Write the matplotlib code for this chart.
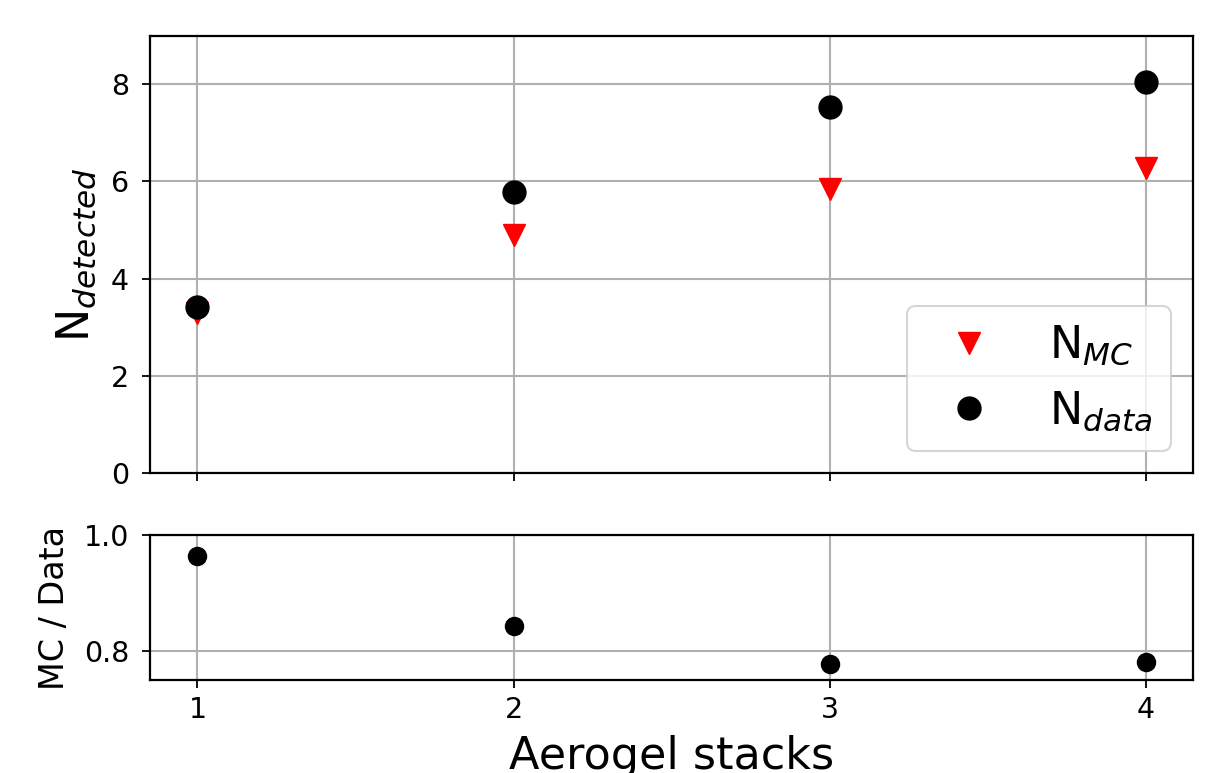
import matplotlib
matplotlib.use("Agg")
import matplotlib.pyplot as plt
import numpy as np

# values
stacks = [1, 2, 3, 4]
n_mc = [3.30, 4.89, 5.85, 6.28]
n_data = [3.42, 5.79, 7.53, 8.04]
ratio = [0.964, 0.843, 0.778, 0.781]

TICK_FS = 20.5
LABEL_FS = 32

fig = plt.figure(figsize=(12.3, 7.73), dpi=100)
ax = fig.add_axes([0.122, 0.388, 0.848, 0.566])
axr = fig.add_axes([0.122, 0.120, 0.848, 0.188], sharex=ax)

ax.plot(stacks, n_mc, 'v', color='red', markersize=16.5, linestyle='none', label=r'N$_{MC}$')
ax.plot(stacks, n_data, 'o', color='black', markersize=16.5, linestyle='none', label=r'N$_{data}$')
ax.set_ylim(0, 9)
ax.set_yticks([0, 2, 4, 6, 8])
ax.set_ylabel(r'N$_{detected}$', fontsize=LABEL_FS, labelpad=9)
ax.grid(True, linewidth=1.5)
ax.tick_params(labelsize=TICK_FS, labelbottom=False, length=6, width=1.3, pad=5)
ax.tick_params(axis='y', pad=9)
leg = ax.legend(loc='lower right', fontsize=LABEL_FS)
leg.get_frame().set_linewidth(1.5)

axr.plot(stacks, ratio, 'o', color='black', markersize=13, linestyle='none')
axr.set_ylim(0.75, 1.0)
axr.set_yticks([0.8, 1.0])
axr.set_ylabel('MC / Data', fontsize=24, labelpad=9)
axr.set_xticks(stacks)
axr.grid(True, linewidth=1.5)
axr.tick_params(labelsize=TICK_FS, length=6, width=1.3, pad=5)
axr.tick_params(axis='y', pad=9)
axr.set_xlabel('Aerogel stacks', fontsize=LABEL_FS, labelpad=8)

for a in (ax, axr):
    for s in a.spines.values():
        s.set_linewidth(1.6)

fig.savefig('out.png', dpi=100)
